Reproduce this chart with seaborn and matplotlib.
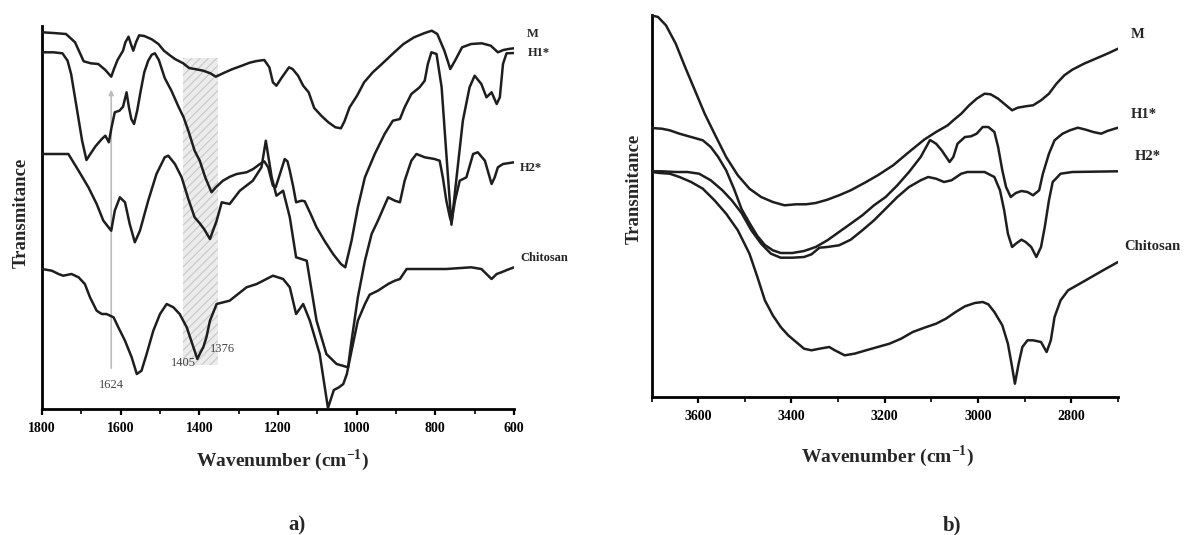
import matplotlib
matplotlib.use("Agg")
import matplotlib.pyplot as plt
from matplotlib.ticker import MultipleLocator
import pandas as pd
import seaborn as sns

# ---------------- FTIR spectra, fingerprint region 1800-600 cm-1 ----------------
# transmittance in arbitrary (stacked) units
fp_m_wn = [1800, 1771, 1739, 1716, 1694, 1676, 1657, 1639, 1624, 1617, 1608, 1594, 1588, 1580,
           1574, 1568, 1561, 1553, 1540, 1521, 1504, 1490, 1476, 1462, 1441, 1426, 1408, 1390,
           1372, 1358, 1340, 1317, 1294, 1272, 1254, 1235, 1222, 1213, 1204, 1190, 1172, 1163,
           1149, 1136, 1122, 1108, 1090, 1072, 1054, 1040, 1031, 1018, 999, 981, 959, 936, 909,
           881, 854, 827, 809, 795, 777, 762, 750, 732, 709, 682, 659, 641, 627, 614, 600]
fp_m_t = [376.7, 376.0, 375.0, 366.7, 347.7, 345.7, 345.0, 339.0, 332.3, 340.0, 349.0, 358.3,
          366.7, 372.3, 365.0, 358.3, 366.7, 373.7, 373.0, 369.7, 365.0, 358.3, 354.0, 350.0,
          345.7, 341.0, 339.7, 338.3, 335.7, 332.3, 335.7, 339.7, 343.0, 346.3, 348.0, 349.0,
          341.7, 326.7, 323.3, 331.7, 341.7, 340.0, 333.3, 323.3, 316.7, 301.0, 293.3, 286.7,
          281.7, 280.7, 287.7, 301.7, 313.3, 326.7, 336.7, 345.0, 355.0, 365.0, 371.7, 376.0,
          378.3, 375.0, 358.3, 340.0, 348.3, 361.7, 365.0, 365.7, 363.3, 356.7, 359.0, 360.0,
          360.7]

fp_h1_wn = [1800, 1771, 1748, 1735, 1726, 1712, 1698, 1687, 1676, 1664, 1648, 1639, 1630, 1624,
            1615, 1603, 1594, 1585, 1579, 1573, 1566, 1558, 1549, 1540, 1530, 1521, 1513, 1503,
            1488, 1471, 1453, 1440, 1428, 1412, 1399, 1385, 1369, 1358, 1340, 1322, 1305, 1280,
            1263, 1246, 1235, 1225, 1213, 1206, 1195, 1183, 1176, 1170, 1161, 1154, 1140, 1132,
            1117, 1102, 1081, 1060, 1040, 1029, 1013, 997, 979, 954, 929, 908, 890, 878, 861,
            840, 827, 819, 810, 797, 784, 772, 759, 746, 730, 713, 700, 683, 670, 657, 644, 636,
            628, 619, 600]
fp_h1_t = [356.7, 356.7, 355.7, 348.3, 335.0, 301.7, 268.3, 249.0, 255.7, 262.7, 270.0, 273.3,
           266.7, 280.0, 296.7, 298.3, 302.3, 316.7, 301.7, 290.0, 285.0, 298.3, 318.3, 336.7,
           348.3, 354.3, 355.7, 349.0, 331.0, 318.3, 302.3, 291.7, 278.3, 258.3, 248.3, 231.7,
           216.7, 221.7, 228.3, 232.3, 235.0, 236.7, 240.0, 245.0, 247.7, 241.7, 223.3, 221.7,
           235.0, 250.0, 247.7, 238.3, 221.7, 206.7, 208.3, 207.7, 195.0, 181.7, 167.7, 155.0,
           145.0, 141.7, 168.3, 201.7, 231.7, 255.0, 275.0, 288.3, 290.0, 301.7, 315.0, 321.7,
           328.3, 345.0, 356.7, 355.0, 321.7, 255.0, 184.3, 231.7, 288.3, 321.7, 333.3, 325.0,
           311.7, 316.7, 305.0, 311.7, 345.0, 355.7, 356.0]

fp_h2_wn = [1800, 1733, 1707, 1682, 1661, 1644, 1624, 1615, 1602, 1589, 1577, 1564, 1551, 1530,
            1509, 1488, 1479, 1462, 1445, 1428, 1412, 1399, 1388, 1373, 1356, 1343, 1323, 1297,
            1264, 1242, 1231, 1216, 1204, 1187, 1170, 1154, 1127, 1102, 1077, 1051, 1022, 1013,
            997, 979, 962, 946, 920, 903, 890, 878, 861, 848, 827, 802, 789, 781, 772, 763, 759,
            750, 738, 721, 704, 692, 674, 657, 649, 641, 628, 600]
fp_h2_t = [255.0, 255.0, 238.3, 221.7, 205.0, 188.3, 178.3, 198.3, 211.7, 206.7, 185.0, 166.7,
           178.3, 208.3, 235.0, 251.7, 253.3, 245.0, 231.7, 210.0, 191.7, 185.7, 180.0, 170.0,
           188.3, 206.7, 205.0, 218.3, 228.3, 241.7, 268.3, 231.7, 213.3, 218.3, 191.7, 151.7,
           148.3, 88.3, 55.0, 45.0, 41.7, 68.3, 111.7, 148.3, 175.0, 188.3, 211.7, 208.3, 206.7,
           228.3, 248.3, 255.0, 251.7, 250.0, 248.3, 231.7, 208.3, 191.7, 186.7, 208.3, 228.3,
           231.7, 255.0, 256.7, 248.3, 225.0, 231.7, 241.7, 245.0, 246.7]

fp_ch_wn = [1800, 1775, 1758, 1746, 1725, 1707, 1691, 1678, 1661, 1648, 1636, 1618, 1606, 1589,
            1572, 1559, 1547, 1534, 1517, 1500, 1483, 1466, 1450, 1432, 1415, 1405, 1397, 1390,
            1382, 1373, 1356, 1323, 1280, 1254, 1213, 1187, 1170, 1154, 1136, 1119, 1094, 1073,
            1058, 1045, 1034, 1025, 1013, 997, 979, 967, 946, 920, 903, 890, 873, 818, 772, 709,
            683, 670, 657, 644, 632, 618, 600]
fp_ch_t = [140.0, 138.3, 135.0, 133.3, 135.0, 131.7, 125.0, 111.7, 98.3, 95.0, 95.0, 91.7, 81.7,
           68.3, 51.7, 35.0, 38.3, 55.0, 78.3, 95.0, 105.0, 101.7, 95.0, 81.7, 61.7, 50.0, 56.7,
           61.7, 71.7, 88.3, 105.0, 108.3, 121.7, 125.0, 133.3, 130.0, 121.7, 95.0, 105.0, 88.3,
           55.0, 1.0, 19.0, 21.7, 25.0, 35.0, 58.3, 88.3, 105.0, 114.3, 118.3, 125.0, 128.3,
           130.0, 140.0, 140.0, 140.0, 141.7, 140.0, 135.0, 130.0, 135.0, 136.7, 139.0, 141.7]

# ---------------- FTIR spectra, stretching region 3700-2700 cm-1 ----------------
hf_m_wn = [3700, 3686, 3669, 3648, 3628, 3607, 3586, 3565, 3540, 3515, 3490, 3465, 3440, 3415,
           3390, 3369, 3348, 3323, 3298, 3273, 3240, 3215, 3182, 3148, 3115, 3090, 3065, 3053,
           3036, 3019, 3003, 2986, 2973, 2957, 2940, 2927, 2915, 2898, 2882, 2865, 2848, 2832,
           2815, 2798, 2773, 2748, 2723, 2700]
hf_m_t = [381.7, 380.0, 371.7, 353.3, 330.0, 306.7, 283.3, 263.3, 240.0, 221.7, 208.3, 200.0,
          195.0, 191.7, 192.7, 192.7, 194.0, 197.3, 201.7, 206.7, 215.0, 221.7, 231.7, 245.0,
          257.5, 265.0, 271.7, 276.7, 283.3, 291.7, 298.3, 303.3, 302.7, 298.3, 291.7, 286.7,
          289.3, 290.7, 291.7, 296.7, 303.3, 313.3, 321.7, 327.3, 333.3, 338.3, 343.3, 348.3]

hf_h1_wn = [3700, 3678, 3661, 3640, 3615, 3590, 3573, 3557, 3540, 3523, 3507, 3490, 3473, 3457,
            3440, 3423, 3398, 3373, 3348, 3323, 3298, 3273, 3248, 3223, 3198, 3173, 3148, 3123,
            3103, 3090, 3078, 3061, 3053, 3044, 3028, 3015, 3003, 2990, 2978, 2965, 2957, 2948,
            2940, 2930, 2919, 2907, 2894, 2882, 2869, 2861, 2848, 2836, 2819, 2803, 2786, 2769,
            2753, 2736, 2723, 2700]
hf_h1_t = [269.0, 268.3, 266.7, 263.3, 260.0, 256.7, 250.0, 240.0, 226.7, 208.0, 188.0, 174.0,
           161.0, 152.0, 146.7, 144.0, 144.0, 146.0, 150.0, 156.7, 165.0, 173.3, 181.7, 191.7,
           200.0, 211.7, 225.0, 240.0, 257.0, 253.3, 246.7, 235.0, 240.0, 253.3, 260.0, 260.7,
           263.3, 270.0, 270.0, 265.0, 250.0, 226.7, 210.0, 200.0, 204.0, 206.0, 205.0, 201.7,
           206.7, 223.3, 243.3, 256.7, 263.3, 266.7, 269.3, 267.3, 265.0, 263.3, 266.0, 269.3]

hf_h2_wn = [3700, 3678, 3648, 3623, 3598, 3573, 3548, 3528, 3507, 3486, 3465, 3444, 3423, 3398,
            3373, 3357, 3340, 3323, 3298, 3273, 3248, 3223, 3198, 3173, 3148, 3123, 3107, 3090,
            3073, 3057, 3036, 3023, 3007, 2986, 2965, 2953, 2944, 2936, 2927, 2919, 2907, 2898,
            2886, 2875, 2865, 2857, 2848, 2840, 2823, 2798, 2700]
hf_h2_t = [225.7, 225.7, 225.0, 225.0, 223.3, 216.7, 206.7, 196.7, 184.0, 166.7, 153.3, 143.3,
           139.3, 139.3, 140.0, 142.7, 149.3, 150.0, 151.7, 157.3, 166.7, 176.7, 188.3, 200.0,
           210.0, 216.7, 220.0, 218.3, 215.0, 216.7, 223.3, 225.0, 225.0, 225.0, 220.0, 206.7,
           186.7, 163.3, 150.0, 153.3, 157.3, 155.0, 150.0, 140.0, 150.0, 170.0, 196.7, 215.0,
           223.3, 225.0, 225.7]

hf_ch_wn = [3700, 3682, 3661, 3640, 3615, 3590, 3565, 3540, 3515, 3490, 3473, 3457, 3440, 3423,
            3407, 3390, 3373, 3357, 3340, 3319, 3307, 3286, 3265, 3240, 3215, 3190, 3165, 3140,
            3115, 3090, 3069, 3048, 3028, 3007, 2990, 2978, 2965, 2948, 2936, 2927, 2921, 2913,
            2905, 2894, 2882, 2865, 2853, 2844, 2836, 2823, 2807, 2782, 2757, 2732, 2700]
hf_ch_t = [225.0, 224.0, 223.3, 220.0, 215.0, 208.3, 196.7, 183.3, 166.7, 143.3, 120.0, 96.7,
           81.7, 70.0, 61.7, 55.0, 48.3, 46.7, 48.3, 50.0, 46.7, 41.7, 43.3, 46.7, 50.0, 53.3,
           58.3, 65.0, 69.3, 73.3, 78.3, 85.0, 90.7, 94.0, 95.0, 92.7, 85.0, 71.7, 53.3, 30.0,
           13.3, 33.3, 50.0, 56.7, 56.7, 55.0, 45.0, 56.7, 80.0, 96.7, 106.7, 113.3, 120.0,
           126.7, 135.0]

sample_names = ["M", "H1*", "H2*", "Chitosan"]
fp_tick_values = [1800, 1600, 1400, 1200, 1000, 800, 600]
hf_tick_values = [3600, 3400, 3200, 3000, 2800]

# marked bands in the fingerprint region
band_1624 = 1624
band_min_chitosan = 1405
band_shoulder = 1376
shaded_band = (1442, 1352)


def long_table(pairs):
    frames = []
    for name, (wn, t) in zip(sample_names, pairs):
        frames.append(pd.DataFrame({"wavenumber": wn, "transmittance": t, "sample": name}))
    return pd.concat(frames, ignore_index=True)


fp_df = long_table([(fp_m_wn, fp_m_t), (fp_h1_wn, fp_h1_t),
                    (fp_h2_wn, fp_h2_t), (fp_ch_wn, fp_ch_t)])
hf_df = long_table([(hf_m_wn, hf_m_t), (hf_h1_wn, hf_h1_t),
                    (hf_h2_wn, hf_h2_t), (hf_ch_wn, hf_ch_t)])

sns.set_theme(style="ticks")
plt.rcParams["font.family"] = ["Liberation Serif", "DejaVu Serif"]
plt.rcParams["font.weight"] = "bold"
plt.rcParams["mathtext.fontset"] = "custom"
plt.rcParams["mathtext.rm"] = "Liberation Serif:bold"
plt.rcParams["mathtext.bf"] = "Liberation Serif:bold"
plt.rcParams["hatch.linewidth"] = 0.8

ink = "#1e1e1e"
palette = {name: ink for name in sample_names}

fig = plt.figure(figsize=(12.04, 5.35), dpi=100)
ax_a = fig.add_axes([42 / 1204, 1 - 409 / 535, 472 / 1204, 383 / 535])
ax_b = fig.add_axes([651.5 / 1204, 1 - 397 / 535, 466.5 / 1204, 382 / 535])

for ax, df, lims, ylim in [(ax_a, fp_df, (1800, 600), (0, 383)),
                           (ax_b, hf_df, (3700, 2700), (0, 382))]:
    sns.lineplot(data=df, x="wavenumber", y="transmittance", hue="sample",
                 palette=palette, estimator=None, sort=True, legend=False,
                 linewidth=1.8, ax=ax, zorder=3)
    ax.set_xlim(*lims)
    ax.set_ylim(*ylim)
    sns.despine(ax=ax)
    for side in ("left", "bottom"):
        ax.spines[side].set_linewidth(2.0)
        ax.spines[side].set_color("black")
    ax.set_yticks([])
    ax.xaxis.set_minor_locator(MultipleLocator(100))
    ax.tick_params(axis="x", which="major", direction="out", length=4.5, width=1.6,
                   pad=5, labelsize=10, colors="black")
    ax.tick_params(axis="x", which="minor", direction="out", length=3.5, width=1.4)
    ax.set_xlabel("Wavenumber (cm$^{-1}$)", fontsize=14, fontweight="bold")
    ax.set_ylabel("Transmitance", fontsize=13.5, fontweight="bold")

ax_a.set_xticks(fp_tick_values)
ax_b.set_xticks(hf_tick_values)
ax_a.xaxis.set_label_coords(0.51, -0.100)
ax_b.xaxis.set_label_coords(0.507, -0.121)
ax_a.yaxis.set_label_coords(-0.025, 0.512)
ax_b.yaxis.set_label_coords(-0.018, 0.545)

# shaded band and marker line in panel a
ax_a.fill_between(list(shaded_band), 44, 351, facecolor="#ececec", edgecolor="#c8c8c8",
                  hatch="////", linewidth=0, zorder=1)
ax_a.annotate("", xy=(band_1624, 322), xytext=(band_1624, 38),
              arrowprops=dict(arrowstyle="-|>", color="#bdbdbd", lw=1.2, mutation_scale=7),
              zorder=2)
note = dict(fontsize=9, fontweight="normal", color="#444444", zorder=4)
ax_a.text(band_1624, 24, str(band_1624), ha="center", va="center", **note)
ax_a.text(band_min_chitosan + 4, 46, str(band_min_chitosan), ha="right", va="center", **note)
ax_a.text(band_shoulder - 3, 60, str(band_shoulder), ha="left", va="center", **note)

# curve labels
for name, x, y in zip(sample_names, [567, 564, 585, 585], [375, 356, 241, 151]):
    ax_a.text(x, y, name, fontsize=9, fontweight="bold", ha="left", va="center", clip_on=False)
for name, x, y in zip(sample_names, [2673, 2672, 2665, 2686], [363, 282, 240, 150]):
    ax_b.text(x, y, name, fontsize=10.5, fontweight="bold", ha="left", va="center", clip_on=False)

fig.text(297 / 1204, 1 - 525 / 535, "a)", fontsize=15, fontweight="bold", ha="center", va="center")
fig.text(952 / 1204, 1 - 525 / 535, "b)", fontsize=15, fontweight="bold", ha="center", va="center")

fig.savefig("out.png", dpi=100, facecolor="white")
